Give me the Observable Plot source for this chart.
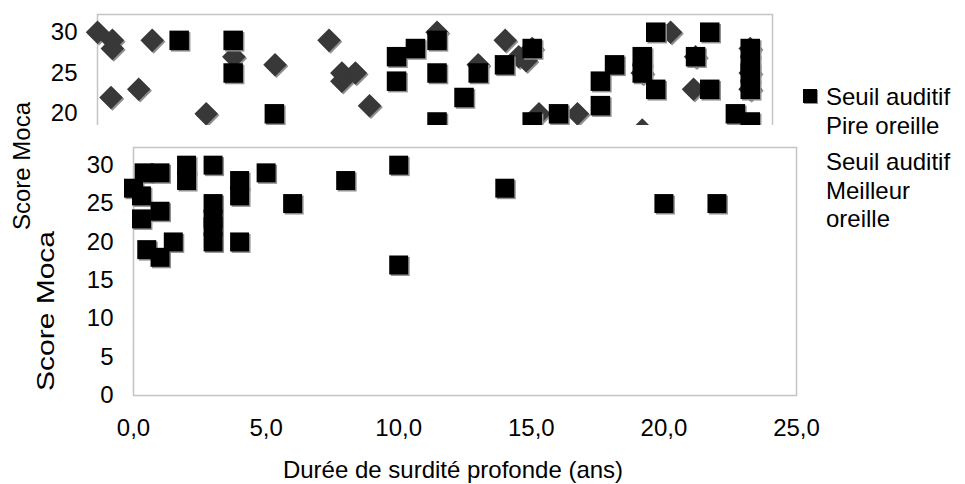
<!DOCTYPE html>
<html><head><meta charset="utf-8">
<script src="https://cdn.jsdelivr.net/npm/d3@7"></script>
<script src="https://cdn.jsdelivr.net/npm/@observablehq/plot@0.6"></script>
<style>
body{margin:0;background:#fff;}
#wrap{position:relative;width:965px;height:484px;overflow:hidden;font-family:"Liberation Sans",Arial,sans-serif;color:#000;background:#fff;}
#topClip{position:absolute;left:0;top:0;width:800px;height:125px;overflow:hidden;}
#bottom{position:absolute;left:36px;top:125px;background:#fff;}
.t{position:absolute;font-size:24px;line-height:28px;white-space:nowrap;}
.c{transform:translate(-50%,-50%);}
.r{transform:translate(-50%,-50%) rotate(-90deg);}
.r2{transform:translate(-50%,-50%) rotate(-90deg) scaleX(1.25);}
</style></head><body>
<div id="wrap">
  <div id="topClip"></div>
  <div class="t r" style="left:22px;top:166px;">Score Moca</div>
  <div id="bottom"></div>
  <div class="t r2" style="left:46px;top:311px;">Score Moca</div>
  <div class="t c" style="left:453px;top:470px;">Durée de surdité profonde (ans)</div>
  <div id="legend"></div>
</div>
<script>
// ---- data: upper (partly hidden) chart ----
const topDiamondX = [0, 2.2, 2.2, 8.1, 2.0, 6.1, 16.1, 20.2, 26.3, 34.3, 36.2, 36.2, 38.2, 40.3, 50.3, 56.4, 60.4, 62.4, 63.5, 64.4, 65.4, 71.1, 80.7, 80.7, 84.9, 88.3, 88.6, 96.7, 96.7, 96.7, 96.7];
const topDiamondY = [30, 29, 28, 29, 22, 23, 20, 27, 26, 29, 25, 24, 25, 21, 30, 26, 29, 27, 26.5, 28, 20, 20, 25, 18, 30, 23, 27, 28, 25, 23, 23];
const topSquareX = [12.1, 20.1, 20.1, 26.2, 44.3, 47.1, 44.3, 50.3, 50.3, 50.3, 54.3, 56.4, 60.3, 64.4, 64.4, 68.3, 74.5, 76.6, 74.5, 80.7, 80.7, 82.7, 82.7, 88.6, 90.7, 90.7, 96.7, 96.7, 96.7, 96.7, 94.5, 96.7];
const topSquareY = [29, 29, 25, 20, 27, 28, 24, 29, 25, 19, 22, 25, 26, 28, 19, 20, 24, 26, 21, 27, 25, 30, 23, 27, 30, 23, 28, 26, 25, 23, 20, 19];
const topYTicks = [20, 25, 30];

// ---- data: main chart ----
const botX = [0, 0.3, 0.4, 1.0, 0.3, 1.0, 0.5, 1.0, 1.5, 2, 2, 3, 3, 3, 3, 3, 4, 4, 4, 5, 6, 8, 10, 10, 14, 20, 22];
const botY = [27, 26, 29, 29, 23, 24, 19, 18, 20, 30, 28, 30, 25, 23, 22, 20, 28, 26, 20, 29, 25, 28, 30, 17, 27, 25, 25];
const botXTicks = [0, 5, 10, 15, 20, 25];
const botYTicks = [0, 5, 10, 15, 20, 25, 30];

const legendLabels = ["Seuil auditif", "Pire oreille", "Seuil auditif", "Meilleur", "oreille"];

const font = {fontFamily: '"Liberation Sans", Arial, sans-serif', fontSize: "24px", background: "transparent", color: "#000", overflow: "visible"};
const toPts = (xs, ys) => xs.map((x, i) => ({x, y: ys[i]}));
const shadow = "#8f8f8f";

const topD = toPts(topDiamondX, topDiamondY);
const topS = toPts(topSquareX, topSquareY);
const topPlot = Plot.plot({
  width: 800, height: 300,
  marginLeft: 97, marginRight: 28, marginTop: 14, marginBottom: 23.5,
  style: font,
  x: {domain: [0, 100], axis: null},
  y: {domain: [0, 32.17], axis: null},
  marks: [
    Plot.frame({stroke: "#c4c4c4", strokeWidth: 1.5}),
    Plot.axisY({ticks: topYTicks, tickSize: 0, tickPadding: 20, label: null, fontSize: 24}),
    Plot.dot(topD, {x: "x", y: "y", symbol: "diamond2", r: 10.6, fill: shadow, dx: 1.5, dy: 1.5}),
    Plot.dot(topD, {x: "x", y: "y", symbol: "diamond2", r: 10.6, fill: "#383838"}),
    Plot.dot(topS, {x: "x", y: "y", symbol: "square", r: 11, fill: shadow, dx: 1.5, dy: 1.5}),
    Plot.dot(topS, {x: "x", y: "y", symbol: "square", r: 11, fill: "#000"})
  ]
});
document.getElementById("topClip").appendChild(topPlot);

const botS = toPts(botX, botY);
const fmt = d => d.toFixed(1).replace(".", ",");
const botPlot = Plot.plot({
  width: 768, height: 359,
  marginLeft: 97, marginRight: 8, marginTop: 22, marginBottom: 89,
  style: {...font, background: "#fff"},
  x: {domain: [0, 25], axis: null},
  y: {domain: [0, 32.3], axis: null},
  marks: [
    Plot.frame({stroke: "#c4c4c4", strokeWidth: 1.5}),
    Plot.axisY({ticks: botYTicks, tickSize: 0, tickPadding: 20, label: null, fontSize: 24}),
    Plot.axisX({ticks: botXTicks, tickSize: 0, tickPadding: 23, tickFormat: fmt, label: null, fontSize: 24}),
    Plot.dot(botS, {x: "x", y: "y", symbol: "square", r: 10.7, fill: shadow, dx: 1.5, dy: 1.5}),
    Plot.dot(botS, {x: "x", y: "y", symbol: "square", r: 10.7, fill: "#000"})
  ]
});
document.getElementById("bottom").appendChild(botPlot);

// legend
const lg = document.getElementById("legend");
const centers = [97, 126, 162, 191, 219];
legendLabels.forEach((t, i) => {
  const d = document.createElement("div");
  d.className = "t";
  d.style.left = "826px";
  d.style.top = (centers[i] - 14) + "px";
  d.textContent = t;
  lg.appendChild(d);
});
const sq = document.createElement("div");
sq.style.cssText = "position:absolute;left:803px;top:89px;width:14px;height:14px;background:#000;box-shadow:1px 1px 0 #8f8f8f;";
lg.appendChild(sq);
</script>
</body></html>
